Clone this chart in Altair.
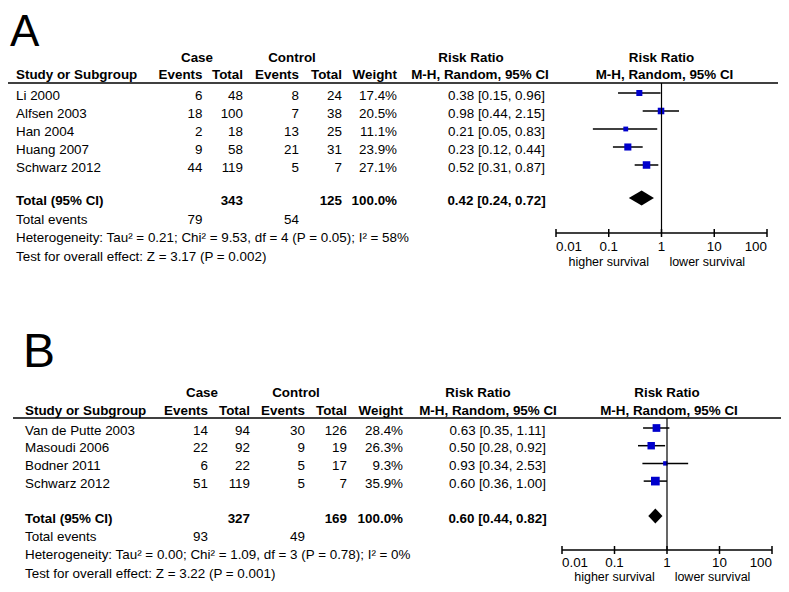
import altair as alt
import pandas as pd

FONT = "Liberation Sans"
BLUE = "#0000CC"
FS = 13.4

# ---------------- data: panel A ----------------
a_studies = ["Li 2000", "Alfsen 2003", "Han 2004", "Huang 2007", "Schwarz 2012"]
a_case_events = [6, 18, 2, 9, 44]
a_case_total = [48, 100, 18, 58, 119]
a_ctrl_events = [8, 7, 13, 21, 5]
a_ctrl_total = [24, 38, 25, 31, 7]
a_weight = [17.4, 20.5, 11.1, 23.9, 27.1]
a_rr = [0.38, 0.98, 0.21, 0.23, 0.52]
a_lo = [0.15, 0.44, 0.05, 0.12, 0.31]
a_hi = [0.96, 2.15, 0.83, 0.44, 0.87]
a_total = {"case_events": 79, "case_total": 343, "ctrl_events": 54, "ctrl_total": 125,
           "weight": 100.0, "rr": 0.42, "lo": 0.24, "hi": 0.72}
a_het = "Heterogeneity: Tau² = 0.21; Chi² = 9.53, df = 4 (P = 0.05); I² = 58%"
a_test = "Test for overall effect: Z = 3.17 (P = 0.002)"

# ---------------- data: panel B ----------------
b_studies = ["Van de Putte 2003", "Masoudi 2006", "Bodner 2011", "Schwarz 2012"]
b_case_events = [14, 22, 6, 51]
b_case_total = [94, 92, 22, 119]
b_ctrl_events = [30, 9, 5, 5]
b_ctrl_total = [126, 19, 17, 7]
b_weight = [28.4, 26.3, 9.3, 35.9]
b_rr = [0.63, 0.50, 0.93, 0.60]
b_lo = [0.35, 0.28, 0.34, 0.36]
b_hi = [1.11, 0.92, 2.53, 1.00]
b_total = {"case_events": 93, "case_total": 327, "ctrl_events": 49, "ctrl_total": 169,
           "weight": 100.0, "rr": 0.60, "lo": 0.44, "hi": 0.82}
b_het = "Heterogeneity: Tau² = 0.00; Chi² = 1.09, df = 3 (P = 0.78); I² = 0%"
b_test = "Test for overall effect: Z = 3.22 (P = 0.001)"

tick_values = [0.01, 0.1, 1, 10, 100]
tick_labels = ["0.01", "0.1", "1", "10", "100"]
left_label = "higher survival"
right_label = "lower survival"

# ---------------- layout (pixels) ----------------
LA = dict(letter="A", lx=2, ly=25, lsize=44,
          study=8, ce=194.5, ct=235, ne=291, nt=334, w=389, ci=488.5, mh=472, rr_h=463,
          case_h=189, ctrl_h=284, frr=653.5, fmh=656.5, xrange=[548, 759],
          line_x0=0, line_x1=770,
          h1=50, h2=67, line=75, row0=85, step=18, dy=2.5, total=190,
          events=212, het=230, test=249, axis=225, ticklab=239, surv=254)
LB = dict(letter="B", lx=15, ly=345, lsize=48,
          study=17, ce=200, ct=242, ne=297, nt=339, w=395, ci=489.5, mh=480, rr_h=470,
          case_h=194, ctrl_h=288, frr=659, fmh=661, xrange=[554, 764],
          line_x0=5, line_x1=773,
          h1=385, h2=403, line=410, row0=420, step=17.7, dy=2.5, total=508,
          events=529, het=547, test=566, axis=542, ticklab=555, surv=568.5)


def lbl(text, x, y, align="left", bold=False, size=FS):
    return alt.Chart(pd.DataFrame({"t": [text]})).mark_text(
        align=align, baseline="middle", font=FONT, fontSize=size,
        fontWeight="bold" if bold else "normal", color="black"
    ).encode(x=alt.value(x), y=alt.value(y), text="t:N")


def make_panel(L, studies, ce, ct, ne, nt, weight, rr, lo, hi, tot, het, test):
    n = len(studies)
    xs = alt.Scale(type="log", domain=[tick_values[0], tick_values[-1]],
                   range=L["xrange"], nice=False)
    ys = alt.Scale(domain=[0, 1], range=[L["row0"], L["row0"] + L["step"]],
                   nice=False, zero=False)
    Y = alt.Y("row:Q", scale=ys, axis=None)

    df = pd.DataFrame({
        "study": studies,
        "ce": [str(v) for v in ce], "ct": [str(v) for v in ct],
        "ne": [str(v) for v in ne], "nt": [str(v) for v in nt],
        "w": weight, "wl": [f"{v:.1f}%" for v in weight],
        "rr": rr, "lo": lo, "hi": hi,
        "cil": [f"{r:.2f} [{a:.2f}, {b:.2f}]" for r, a, b in zip(rr, lo, hi)],
        "row": list(range(n)),
    })

    layers = [lbl(L["letter"], L["lx"], L["ly"], size=L["lsize"])]
    # header rows
    layers += [
        lbl("Case", L["case_h"], L["h1"], "center", True),
        lbl("Control", L["ctrl_h"], L["h1"], "center", True),
        lbl("Risk Ratio", L["rr_h"], L["h1"], "center", True),
        lbl("Risk Ratio", L["frr"], L["h1"], "center", True),
        lbl("Study or Subgroup", L["study"], L["h2"], "left", True),
        lbl("Events", L["ce"], L["h2"], "right", True),
        lbl("Total", L["ct"], L["h2"], "right", True),
        lbl("Events", L["ne"], L["h2"], "right", True),
        lbl("Total", L["nt"], L["h2"], "right", True),
        lbl("Weight", L["w"], L["h2"], "right", True),
        lbl("M-H, Random, 95% CI", L["mh"], L["h2"], "center", True),
        lbl("M-H, Random, 95% CI", L["fmh"], L["h2"], "center", True),
    ]
    layers.append(alt.Chart(pd.DataFrame({"k": [0]})).mark_rule(
        color="black", strokeWidth=1.5).encode(
        x=alt.value(L["line_x0"]), x2=alt.value(L["line_x1"]), y=alt.value(L["line"])))

    # study rows text
    def rowtext(field, x, align):
        return alt.Chart(df).mark_text(
            align=align, baseline="middle", font=FONT, fontSize=FS,
            dy=L["dy"], color="black"
        ).encode(x=alt.value(x), y=Y, text=f"{field}:N")

    layers += [
        rowtext("study", L["study"], "left"),
        rowtext("ce", L["ce"], "right"),
        rowtext("ct", L["ct"], "right"),
        rowtext("ne", L["ne"], "right"),
        rowtext("nt", L["nt"], "right"),
        rowtext("wl", L["w"], "right"),
        rowtext("cil", L["ci"], "center"),
    ]

    # totals
    ty = L["total"] + L["dy"]
    layers += [
        lbl("Total (95% CI)", L["study"], ty, "left", True),
        lbl(str(tot["case_total"]), L["ct"], ty, "right", True),
        lbl(str(tot["ctrl_total"]), L["nt"], ty, "right", True),
        lbl(f"{tot['weight']:.1f}%", L["w"], ty, "right", True),
        lbl(f"{tot['rr']:.2f} [{tot['lo']:.2f}, {tot['hi']:.2f}]", L["ci"], ty, "center", True),
        lbl("Total events", L["study"], L["events"], "left"),
        lbl(str(tot["case_events"]), L["ce"], L["events"], "right"),
        lbl(str(tot["ctrl_events"]), L["ne"], L["events"], "right"),
        lbl(het, L["study"], L["het"], "left"),
        lbl(test, L["study"], L["test"], "left"),
    ]

    # forest: CI lines and squares
    layers.append(alt.Chart(df).mark_rule(color="black", strokeWidth=1.5).encode(
        x=alt.X("lo:Q", scale=xs, axis=None), x2="hi:Q", y=Y))
    layers.append(alt.Chart(df).mark_square(color=BLUE, opacity=1).encode(
        x=alt.X("rr:Q", scale=xs, axis=None), y=Y,
        size=alt.Size("w:Q", scale=alt.Scale(domain=[0, 100], range=[0, 210]), legend=None)))

    # pooled diamond
    tr = (L["total"] - L["row0"]) / L["step"]
    hh = 7.5 / L["step"]
    dia = pd.DataFrame({"x": [tot["lo"], tot["rr"], tot["hi"]],
                        "y": [tr, tr - hh, tr], "y2": [tr, tr + hh, tr]})
    layers.append(alt.Chart(dia).mark_area(color="black", opacity=1, orient="vertical").encode(
        x=alt.X("x:Q", scale=xs, axis=None),
        y=alt.Y("y:Q", scale=ys, axis=None), y2="y2:Q"))

    # line of no effect
    layers.append(alt.Chart(pd.DataFrame({"v": [1.0]})).mark_rule(
        color="black", strokeWidth=1.2).encode(
        x=alt.X("v:Q", scale=xs, axis=None),
        y=alt.value(L["line"]), y2=alt.value(L["axis"])))

    # axis
    layers.append(alt.Chart(pd.DataFrame({"a": [tick_values[0]], "b": [tick_values[-1]]})).mark_rule(
        color="black", strokeWidth=1.5).encode(
        x=alt.X("a:Q", scale=xs, axis=None), x2="b:Q", y=alt.value(L["axis"])))
    tdf = pd.DataFrame({"t": tick_values, "lab": tick_labels})
    layers.append(alt.Chart(tdf).mark_rule(color="black", strokeWidth=1.5).encode(
        x=alt.X("t:Q", scale=xs, axis=None),
        y=alt.value(L["axis"] - 4), y2=alt.value(L["axis"] + 4)))
    for part, align in [(tdf.iloc[[0]], "left"), (tdf.iloc[1:-1], "center"),
                        (tdf.iloc[[-1]], "right")]:
        layers.append(alt.Chart(part).mark_text(
            align=align, baseline="middle", font=FONT, fontSize=FS, color="black").encode(
            x=alt.X("t:Q", scale=xs, axis=None), y=alt.value(L["ticklab"]), text="lab:N"))
    layers.append(alt.Chart(pd.DataFrame({"v": [0.1], "s": [left_label]})).mark_text(
        align="center", baseline="middle", font=FONT, fontSize=12.5, color="black").encode(
        x=alt.X("v:Q", scale=xs, axis=None), y=alt.value(L["surv"]), text="s:N"))
    layers.append(alt.Chart(pd.DataFrame({"v": [10.0], "s": [right_label]})).mark_text(
        align="center", baseline="middle", font=FONT, fontSize=12.5, dx=-7, color="black").encode(
        x=alt.X("v:Q", scale=xs, axis=None), y=alt.value(L["surv"]), text="s:N"))

    return alt.layer(*layers)


pa = make_panel(LA, a_studies, a_case_events, a_case_total, a_ctrl_events, a_ctrl_total,
                a_weight, a_rr, a_lo, a_hi, a_total, a_het, a_test)
pb = make_panel(LB, b_studies, b_case_events, b_case_total, b_ctrl_events, b_ctrl_total,
                b_weight, b_rr, b_lo, b_hi, b_total, b_het, b_test)

chart = alt.layer(pa, pb).resolve_scale(
    x="independent", y="independent", size="independent"
).properties(
    width=773, height=576, padding=0,
    autosize=alt.AutoSizeParams(type="none"),
    background="white",
).configure_view(stroke=None)

chart.save("out.html", embed_options={"renderer": "svg", "actions": False})
